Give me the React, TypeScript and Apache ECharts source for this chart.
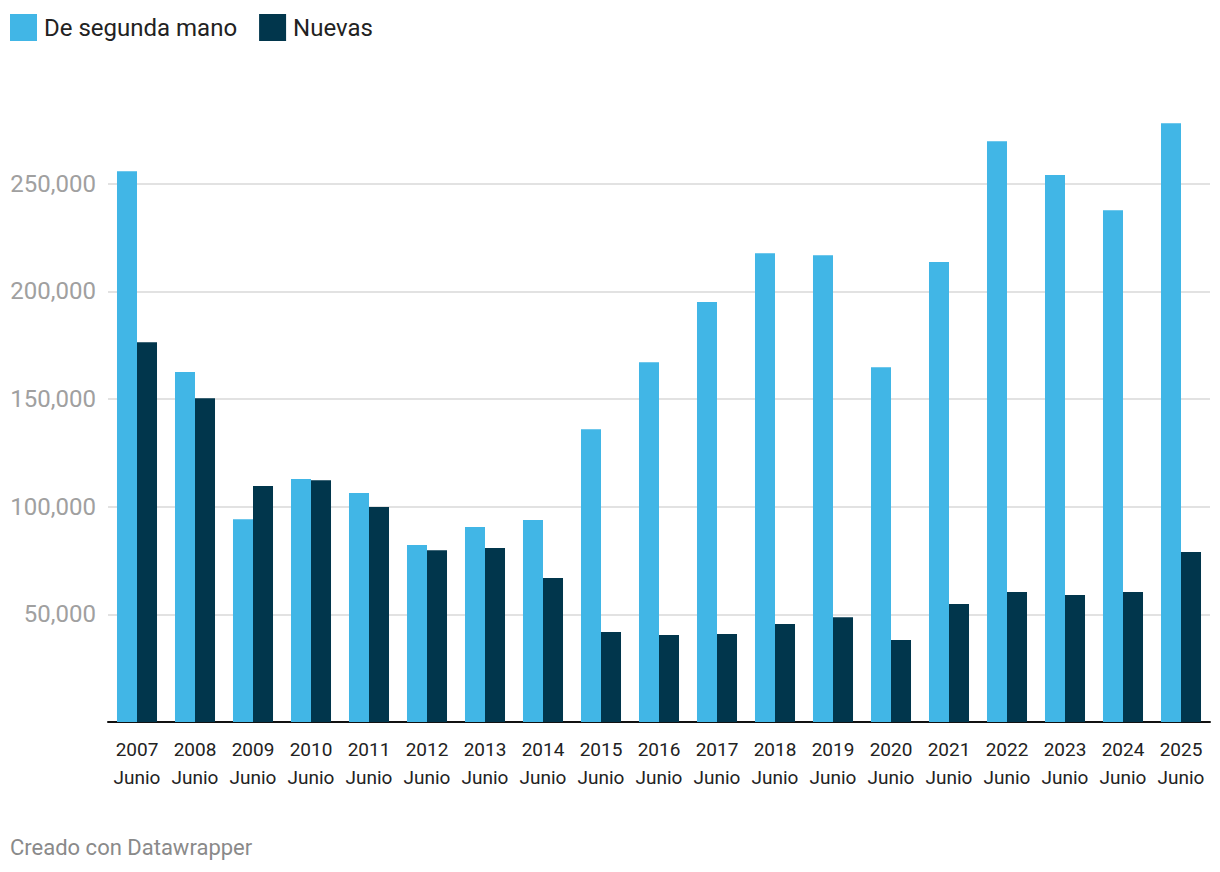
import React, { useEffect, useRef } from "react";
import * as echarts from "echarts";

const years = ["2007", "2008", "2009", "2010", "2011", "2012", "2013", "2014", "2015", "2016", "2017", "2018", "2019", "2020", "2021", "2022", "2023", "2024", "2025"];
const categories = years.map((y) => y + "\nJunio");
const segundaMano = [255800, 162500, 94200, 112800, 106300, 82200, 90500, 93800, 136000, 167100, 195000, 217700, 216800, 164800, 213600, 269700, 254000, 237700, 278100];
const nuevas = [176400, 150400, 109600, 112300, 99800, 79800, 80800, 66900, 41800, 40400, 40900, 45500, 48700, 38100, 54800, 60400, 59000, 60400, 78900];
const seriesNames = ["De segunda mano", "Nuevas"];
const footer = "Creado con Datawrapper";

const FONT = "Roboto, 'Noto Sans', sans-serif";

export default function App() {
  const ref = useRef<HTMLDivElement>(null);
  useEffect(() => {
    if (!ref.current) return;
    const chart = echarts.init(ref.current, undefined, { renderer: "svg" });
    chart.setOption({
      animation: false,
      backgroundColor: "#ffffff",
      textStyle: { fontFamily: FONT },
      legend: {
        left: 10,
        top: 14,
        padding: 0,
        itemWidth: 27,
        itemHeight: 27,
        itemGap: 22,
        icon: "rect",
        selectedMode: false,
        textStyle: { fontSize: 24, color: "#222222", fontFamily: FONT, padding: [0, 0, 0, 2] },
        data: seriesNames,
      },
      grid: { left: 108, right: 10, top: 76, bottom: 150, containLabel: false },
      xAxis: {
        type: "category",
        data: categories,
        axisLine: { show: true, lineStyle: { color: "#111111", width: 2 } },
        axisTick: { show: false },
        axisLabel: {
          interval: 0,
          margin: 13,
          fontSize: 19,
          lineHeight: 28,
          color: "#222222",
          fontFamily: FONT,
        },
      },
      yAxis: {
        type: "value",
        min: 0,
        max: 300000,
        interval: 50000,
        axisLine: { show: false },
        axisTick: { show: false },
        axisLabel: {
          margin: 12,
          fontSize: 24,
          color: "#a0a0a0",
          fontFamily: FONT,
          showMinLabel: false,
          showMaxLabel: false,
          formatter: (v: number) => v.toLocaleString("en-US"),
        },
        splitLine: {
          show: true,
          showMinLine: false,
          showMaxLine: false,
          lineStyle: { color: "#e2e2e2", width: 2 },
        },
      },
      series: [
        {
          name: seriesNames[0],
          type: "bar",
          data: segundaMano,
          itemStyle: { color: "#41b6e6" },
          barGap: "0%",
          barCategoryGap: "31%",
        },
        {
          name: seriesNames[1],
          type: "bar",
          data: nuevas,
          itemStyle: { color: "#01364c" },
          barGap: "0%",
          barCategoryGap: "31%",
        },
      ],
      graphic: [
        {
          type: "text",
          left: 10,
          top: 836,
          style: { text: footer, fontSize: 22, fill: "#8a8a8a", fontFamily: FONT },
        },
      ],
    });
    return () => chart.dispose();
  }, []);
  return (
    <div
      ref={ref}
      style={{ position: "fixed", left: 0, top: 0, width: 1220, height: 872 }}
    />
  );
}
